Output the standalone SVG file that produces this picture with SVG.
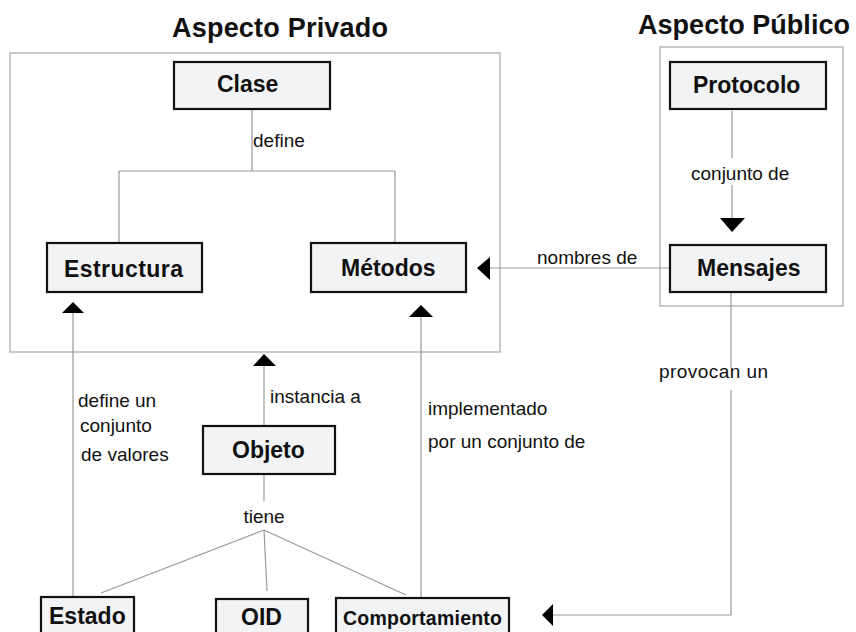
<svg xmlns="http://www.w3.org/2000/svg" width="856" height="632" viewBox="0 0 856 632">
<style>
.frame{fill:none;stroke:#b8b8b8;stroke-width:1.5}
.box{fill:#f2f3f5;stroke:#111;stroke-width:2.2}
.nt{font-family:"Liberation Sans",Arial,sans-serif;font-weight:bold;font-size:23px;fill:#111}
.lbl{font-family:"Liberation Sans",Arial,sans-serif;font-size:19px;fill:#111}
.ttl{font-family:"Liberation Sans",Arial,sans-serif;font-weight:bold;font-size:27px;fill:#111}
.ln{fill:none;stroke:#999;stroke-width:1.2}
.ah{fill:#000}
</style>
<rect width="856" height="632" fill="#fff"/>
<text class="ttl" x="172" y="37" textLength="216">Aspecto Privado</text>
<text class="ttl" x="638" y="34" textLength="212">Aspecto Público</text>
<rect class="frame" x="10" y="53" width="490" height="299"/>
<rect class="frame" x="660" y="47" width="183" height="259"/>
<g id="connectors">
<path class="ln" d="M252 109V171M119 171H395M119 171V243M395 171V243"/>
<path class="ln" d="M73 313V597"/>
<polygon class="ah" points="73,302 62,313 84,313"/>
<path class="ln" d="M421 317V599"/>
<polygon class="ah" points="421,305 409,317 433,317"/>
<path class="ln" d="M490 268H670"/>
<polygon class="ah" points="477,268 490,257 490,280"/>
<path class="ln" d="M732 111V158M732 185V218"/>
<polygon class="ah" points="732,232 720,218 745,218"/>
<path class="ln" d="M731 292V368M731 390V615H553"/>
<polygon class="ah" points="542,615 553,604 553,626"/>
<path class="ln" d="M264 366V426"/>
<polygon class="ah" points="264,354 253,366 276,366"/>
<path class="ln" d="M264 474V501M264 530L101 593M264 530L267 591M264 530L406 595"/>
</g>
<g id="labels">
<text class="lbl" x="253" y="147">define</text>
<text class="lbl" x="537" y="264">nombres de</text>
<text class="lbl" x="691" y="180">conjunto de</text>
<text class="lbl" x="659" y="378" textLength="109">provocan un</text>
<text class="lbl" x="78" y="407">define un</text>
<text class="lbl" x="80" y="432">conjunto</text>
<text class="lbl" x="81" y="461">de valores</text>
<text class="lbl" x="270" y="403">instancia a</text>
<text class="lbl" x="264" y="523" text-anchor="middle">tiene</text>
<text class="lbl" x="428" y="415">implementado</text>
<text class="lbl" x="428" y="448">por un conjunto de</text>
</g>
<g id="clase"><rect class="box" x="174" y="62" width="156" height="47"/><text class="nt" x="217" y="92">Clase</text></g>
<g id="estructura"><rect class="box" x="47" y="243" width="155" height="49"/><text class="nt" x="64" y="277" textLength="119">Estructura</text></g>
<g id="metodos"><rect class="box" x="311" y="243" width="155" height="49"/><text class="nt" x="341" y="276">Métodos</text></g>
<g id="protocolo"><rect class="box" x="670" y="62" width="156" height="47"/><text class="nt" x="693" y="93">Protocolo</text></g>
<g id="mensajes"><rect class="box" x="670" y="245" width="156" height="47"/><text class="nt" x="697" y="276">Mensajes</text></g>
<g id="objeto"><rect class="box" x="203" y="426" width="132" height="48"/><text class="nt" x="232" y="458">Objeto</text></g>
<g id="estado"><rect class="box" x="41" y="597" width="93" height="50"/><text class="nt" x="49" y="624">Estado</text></g>
<g id="oid"><rect class="box" x="216" y="599" width="92" height="50"/><text class="nt" x="241" y="625">OID</text></g>
<g id="comportamiento"><rect class="box" x="336" y="598" width="173" height="50"/><text class="nt" x="343" y="625" style="font-size:19.5px" textLength="159">Comportamiento</text></g>
</svg>
